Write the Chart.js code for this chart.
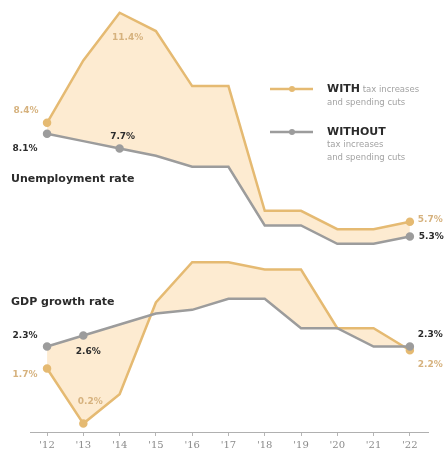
<!DOCTYPE html>
<html>
<head>
<meta charset="utf-8">
<script src="https://cdn.jsdelivr.net/npm/chart.js@4.4.1/dist/chart.umd.min.js"></script>
<style>
  html, body { margin: 0; padding: 0; background: #fff; }
</style>
</head>
<body>
<canvas id="chart" width="448" height="454"></canvas>
<script>
// years on the x axis ('12 .. '22)
const years = [12, 13, 14, 15, 16, 17, 18, 19, 20, 21, 22];
const tickLabels = ["'12", "'13", "'14", "'15", "'16", "'17", "'18", "'19", "'20", "'21", "'22"];

// unemployment rate, %
const unempWith = [8.4, 10.1, 11.4, 10.9, 9.4, 9.4, 6.0, 6.0, 5.5, 5.5, 5.7];
const unempWithout = [8.1, 7.9, 7.7, 7.5, 7.2, 7.2, 5.6, 5.6, 5.1, 5.1, 5.3];

// GDP growth rate, %
const gdpWith = [1.7, 0.2, 1.0, 3.5, 4.6, 4.6, 4.4, 4.4, 2.8, 2.8, 2.2];
const gdpWithout = [2.3, 2.6, 2.9, 3.2, 3.3, 3.6, 3.6, 2.8, 2.8, 2.3, 2.3];

// which points carry a marker
const unempWithDots = [0, 10];
const unempWithoutDots = [0, 2, 10];
const gdpWithDots = [0, 1, 10];
const gdpWithoutDots = [0, 1, 10];

const WITH_COLOR = '#e5ba72';
const WITHOUT_COLOR = '#9c9c9c';
const FILL_COLOR = '#fdebd1';
const DARK = '#2b2b2b';
const LIGHT = '#d6b27e';

const toPoints = (vals) => vals.map((v, i) => ({ x: years[i], y: v }));
const radii = (dots) => years.map((_, i) => dots.includes(i) ? 3 : 0);

function lineSet(label, vals, color, dots, fill) {
    return {
        label: label,
        data: toPoints(vals),
        borderColor: color,
        backgroundColor: fill ? FILL_COLOR : color,
        pointBackgroundColor: color,
        pointBorderColor: color,
        pointRadius: radii(dots),
        borderWidth: 2.5,
        tension: 0,
        // WITH series are drawn first so the grey lines stay on top of the fill
        order: fill ? 1 : 0,
        fill: fill ? { target: '+1', above: FILL_COLOR, below: FILL_COLOR } : false,
        clip: false
    };
}

// value labels next to some points
const annotations = [
    { ds: 0, i: 0, dx: -21, dy: -12, align: 'center', color: LIGHT },
    { ds: 0, i: 2, dx: 8, dy: 25, align: 'center', color: LIGHT },
    { ds: 0, i: 10, dx: 8, dy: -2, align: 'left', color: LIGHT },
    { ds: 1, i: 0, dx: -22, dy: 15, align: 'center', color: DARK },
    { ds: 1, i: 2, dx: 3, dy: -12, align: 'center', color: DARK },
    { ds: 1, i: 10, dx: 9, dy: 0, align: 'left', color: DARK },
    { ds: 2, i: 0, dx: -22, dy: 6, align: 'center', color: LIGHT },
    { ds: 2, i: 1, dx: 7, dy: -22, align: 'center', color: LIGHT },
    { ds: 2, i: 10, dx: 8, dy: 14, align: 'left', color: LIGHT },
    { ds: 3, i: 0, dx: -22, dy: -11, align: 'center', color: DARK },
    { ds: 3, i: 1, dx: 5, dy: 16, align: 'center', color: DARK },
    { ds: 3, i: 10, dx: 8, dy: -12, align: 'left', color: DARK }
];

const textPlugin = {
    id: 'texts',
    afterDatasetsDraw(chart) {
        const ctx = chart.ctx;
        const xs = chart.scales.x, ys = chart.scales.y;
        ctx.save();
        ctx.textBaseline = 'middle';

        // point value labels
        ctx.font = 'bold 9px "DejaVu Sans"';
        annotations.forEach(a => {
            const p = chart.data.datasets[a.ds].data[a.i];
            ctx.fillStyle = a.color;
            ctx.textAlign = a.align;
            ctx.fillText(p.y.toFixed(1) + '%', xs.getPixelForValue(p.x) + a.dx, ys.getPixelForValue(p.y) + a.dy);
        });

        // panel titles
        ctx.textAlign = 'left';
        ctx.fillStyle = DARK;
        ctx.font = 'bold 11px "DejaVu Sans"';
        ctx.fillText('Unemployment rate', 11, 179);
        ctx.fillText('GDP growth rate', 11, 302);

        // legend
        const legendRows = [
            { y: 89, color: WITH_COLOR, bold: 'WITH', rest: [' tax increases', 'and spending cuts'], inline: true },
            { y: 132, color: WITHOUT_COLOR, bold: 'WITHOUT', rest: ['tax increases', 'and spending cuts'], inline: false }
        ];
        legendRows.forEach(r => {
            ctx.strokeStyle = r.color;
            ctx.lineWidth = 2.5;
            ctx.beginPath();
            ctx.moveTo(270, r.y);
            ctx.lineTo(313, r.y);
            ctx.stroke();
            ctx.fillStyle = r.color;
            ctx.beginPath();
            ctx.arc(292, r.y, 3, 0, Math.PI * 2);
            ctx.fill();

            ctx.fillStyle = DARK;
            ctx.font = 'bold 11px "DejaVu Sans"';
            ctx.fillText(r.bold, 327, r.y);
            const w = ctx.measureText(r.bold).width;
            ctx.fillStyle = '#a3a3a3';
            ctx.font = '8.5px "DejaVu Sans"';
            if (r.inline) {
                ctx.fillText(r.rest[0], 327 + w, r.y + 1);
                ctx.fillText(r.rest[1], 327, r.y + 14);
            } else {
                ctx.fillText(r.rest[0], 327, r.y + 13);
                ctx.fillText(r.rest[1], 327, r.y + 26);
            }
        });
        ctx.restore();
    }
};

new Chart(document.getElementById('chart'), {
    type: 'line',
    data: {
        datasets: [
            lineSet('Unemployment with cuts', unempWith, WITH_COLOR, unempWithDots, true),
            lineSet('Unemployment without cuts', unempWithout, WITHOUT_COLOR, unempWithoutDots, false),
            lineSet('GDP with cuts', gdpWith, WITH_COLOR, gdpWithDots, true),
            lineSet('GDP without cuts', gdpWithout, WITHOUT_COLOR, gdpWithoutDots, false)
        ]
    },
    options: {
        responsive: false,
        animation: false,
        layout: { padding: { left: 30, right: 20, top: 0, bottom: 0 } },
        plugins: {
            legend: { display: false },
            tooltip: { enabled: false }
        },
        scales: {
            x: {
                type: 'linear',
                min: 11.53,
                max: 22.5,
                afterBuildTicks: (s) => { s.ticks = years.map(v => ({ value: v })); },
                afterFit: (s) => { s.height = 22; },
                ticks: {
                    autoSkip: false,
                    maxRotation: 0,
                    padding: 3,
                    color: '#8a8a8a',
                    font: { family: '"DejaVu Serif"', size: 10 },
                    callback: (v) => tickLabels[years.indexOf(v)]
                },
                grid: {
                    display: true,
                    drawOnChartArea: false,
                    tickLength: 4,
                    color: '#b5b5b5'
                },
                border: { display: true, color: '#b0b0b0', width: 1 }
            },
            y: {
                display: false,
                min: -0.03,
                max: 11.57
            }
        }
    },
    plugins: [textPlugin]
});
</script>
</body>
</html>
